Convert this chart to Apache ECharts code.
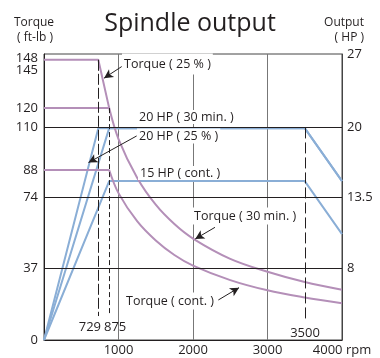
<!DOCTYPE html>
<html>
<head>
<meta charset="utf-8">
<script src="https://cdn.jsdelivr.net/npm/echarts@6/dist/echarts.min.js"></script>
<style>
  html, body { margin: 0; padding: 0; background: #fff; }
  #chart { width: 380px; height: 358px; }
</style>
</head>
<body>
<div id="chart"></div>
<script>
// tick labels
const torqueTicks = [0, 37, 74, 88, 110, 120, 145, 148]
const hpLabelAt = [148, 110, 74, 37] // right labels sit on the torque gridlines
const hpLabels = ['27', '20', '13.5', '8']
const rpmTicks = [1000, 2000, 3000, 4000]
const rpmTickLabels = ['1000', '2000', '3000', '4000 rpm']
const gridTorque = [37, 74, 110]

// torque (ft-lb) vs rpm
const torque25 = [[0, 145], [729, 145], [875, 120]]
const torque30 = [[0, 120], [875, 120]]
const torqueCont = [[0, 88], [875, 88]]
const torqueHigh = [[875, 120], [1000, 104], [1250, 84], [1500, 70], [1750, 60], [2000, 52.5], [2500, 42], [3000, 35.3], [3500, 30], [4000, 26]]
const torqueLow = [[875, 88], [1000, 76], [1250, 61.5], [1500, 51.5], [1750, 44], [2000, 38.5], [2500, 31], [3000, 25.7], [3500, 22], [4000, 19]]

// output (HP) vs rpm
const hp25 = [[0, 0], [729, 20], [3500, 20], [4000, 15]]
const hp30 = [[0, 0], [875, 20], [3500, 20], [4000, 15]]
const hpCont = [[0, 0], [875, 15], [3500, 15], [4000, 10]]

// speed markers
const markRpm = [729, 875, 3500]
const markTop = [145, 120, 110]

const FONT = '"Open Sans", "Noto Sans", sans-serif'
const INK = '#231f20'
const PURPLE = '#b48fb8'
const BLUE = '#8aaed6'

const chart = echarts.init(document.getElementById('chart'), null, { renderer: 'canvas' })

function torqueLabel(v) {
  const i = torqueTicks.indexOf(Math.round(v * 1000) / 1000)
  if (i < 0 || Math.abs(v - torqueTicks[i]) > 1e-6) return ''
  if (torqueTicks[i] === 148) return '{a|148}'
  if (torqueTicks[i] === 145) return '{b|145}'
  return String(torqueTicks[i])
}

function hpLabel(v) {
  const i = hpLabelAt.indexOf(Math.round(v))
  if (i < 0 || Math.abs(v - hpLabelAt[i]) > 1e-6) return ''
  return hpLabels[i]
}

function curve(data, color, yAxisIndex, smooth) {
  return {
    type: 'line',
    data: data,
    yAxisIndex: yAxisIndex,
    smooth: smooth ? 0.35 : false,
    showSymbol: false,
    symbol: 'none',
    silent: true,
    z: 3,
    lineStyle: { color: color, width: 2 },
  }
}

const dashTypes = [[11, 3], [5, 3], [11, 4]]
const markerLines = markRpm.map((r, i) => [
  { coord: [r, markTop[i]], lineStyle: { color: INK, width: 1, type: dashTypes[i] } },
  { coord: [r, i === 2 ? 11 : 12.4] },
])

const arrows = [
  [[1043, 141.5], [806, 135.5]],
  [[1244, 105.6], [597, 91.8]],
  [[2295, 58.3], [2030, 52.3]],
  [[2340, 20.7], [2618, 27.1]],
]

const notes = [
  { text: 'Torque ( 25 % )', x: 122, y: 64, pad: [4, 2, 4, 2] },
  { text: '20 HP ( 30 min. )', x: 137, y: 117, pad: [1, 2, 0, 2] },
  { text: '20 HP ( 25 % )', x: 137, y: 136, pad: [1, 2, 1, 2] },
  { text: '15 HP ( cont. )', x: 138, y: 173, pad: [1, 2, 0, 2] },
  { text: 'Torque ( 30 min. )', x: 192, y: 216, pad: [2, 2, 2, 2] },
  { text: 'Torque ( cont. )', x: 124, y: 301, pad: [2, 2, 2, 2] },
]

function text(str, x, y, align, size, extra) {
  return {
    type: 'text',
    z: 5,
    style: Object.assign({
      text: str, x: x, y: y,
      font: size + 'px ' + FONT,
      fill: INK,
      align: align,
      verticalAlign: 'middle',
    }, extra || {}),
  }
}

const option = {
  animation: false,
  title: {
    text: 'Spindle output',
    left: 'center',
    top: 6,
    textStyle: { fontFamily: FONT, fontSize: 25, fontWeight: 'normal', color: INK },
  },
  grid: {
    left: 44, right: 38, top: 54, bottom: 18,
    show: true, borderColor: '#444', borderWidth: 1,
    outerBoundsMode: 'none',
  },
  xAxis: {
    type: 'value', min: 0, max: 4000, interval: 1000,
    axisLine: { show: true, lineStyle: { color: INK, width: 1 } },
    axisTick: { show: false },
    splitLine: { show: true, lineStyle: { color: '#777', width: 1 } },
    axisLabel: {
      margin: 4, fontFamily: FONT, fontSize: 13, color: INK,
      formatter: (v) => {
        const i = rpmTicks.indexOf(v)
        return i < 0 ? '' : rpmTickLabels[i]
      },
    },
  },
  yAxis: [
    {
      type: 'value', min: 0, max: 148, interval: 1,
      axisLine: { show: true, lineStyle: { color: INK, width: 1 } },
      axisTick: { show: false },
      splitLine: { show: false },
      axisLabel: {
        margin: 6, fontFamily: FONT, fontSize: 13, color: INK,
        formatter: torqueLabel,
        rich: {
          a: { fontFamily: FONT, fontSize: 13, color: INK, padding: [8, 0, 0, 0] },
          b: { fontFamily: FONT, fontSize: 13, color: INK, padding: [20, 0, 0, 0] },
        },
      },
    },
    {
      type: 'value', min: 0, max: 148, interval: 1, position: 'right',
      axisLine: { show: true, lineStyle: { color: '#444', width: 1 } },
      axisTick: { show: false },
      splitLine: { show: false },
      axisLabel: { margin: 5, fontFamily: FONT, fontSize: 13, color: INK, formatter: hpLabel },
    },
    {
      type: 'value', min: 0, max: 27, show: false,
      splitLine: { show: false },
    },
  ],
  series: [
    {
      type: 'line', data: [], z: 1, silent: true,
      markLine: {
        silent: true, symbol: 'none', animation: false,
        label: { show: false },
        lineStyle: { color: INK, width: 1, type: 'solid' },
        data: gridTorque.map((v) => ({ yAxis: v })).concat(markerLines),
      },
    },
    curve(hp25, BLUE, 2, false),
    curve(hp30, BLUE, 2, false),
    curve(hpCont, BLUE, 2, false),
    curve(torque25, PURPLE, 0, false),
    curve(torque30, PURPLE, 0, false),
    curve(torqueCont, PURPLE, 0, false),
    curve(torqueHigh, PURPLE, 0, true),
    curve(torqueLow, PURPLE, 0, true),
    {
      type: 'line', data: [], z: 10, silent: true,
      markLine: {
        silent: true, animation: false,
        symbol: ['none', 'arrow'], symbolSize: [7, 9],
        label: { show: false },
        lineStyle: { color: INK, width: 1, type: 'solid' },
        data: arrows.map((a) => [{ coord: a[0] }, { coord: a[1] }]),
      },
    },
  ],
  graphic: [
    text('Torque', 34, 23, 'center', 12),
    text('( ft-lb )', 35, 38, 'center', 12),
    text('Output', 364, 23, 'right', 12),
    text('( HP )', 364, 38, 'right', 12),
    text('729', 101, 327, 'right', 13),
    text('875', 104, 327, 'left', 13),
    text('3500', 305, 333, 'center', 13),
  ].concat(notes.map((n) => text(n.text, n.x, n.y, 'left', 12.5, { backgroundColor: '#fff', padding: n.pad }))),
}

chart.setOption(option)
</script>
</body>
</html>
